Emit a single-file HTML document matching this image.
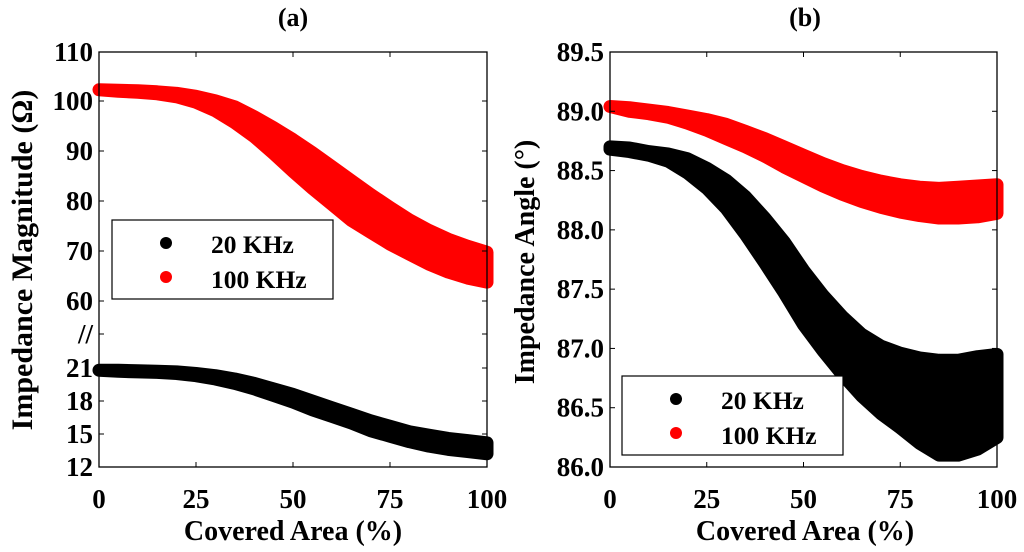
<!DOCTYPE html>
<html><head><meta charset="utf-8"><style>
html,body{margin:0;padding:0;background:#fff;}
svg{display:block;font-family:"Liberation Serif",serif;font-weight:bold;}
</style></head><body>
<svg id="chart" width="1024" height="552" viewBox="0 0 1024 552" xmlns="http://www.w3.org/2000/svg"></svg>
<script>
const xs = [0,5,10,15,20,25,30,35,40,45,50,55,60,65,70,75,80,85,90,95,100];
const magRedHi = [102.4,102.3,102.2,102.0,101.7,101.1,100.2,99.0,97.0,94.8,92.4,89.8,87.0,84.2,81.4,78.8,76.3,74.2,72.4,71.0,69.8];
const magRedLo = [102.4,102.1,101.9,101.6,101.0,99.9,98.2,95.8,93.0,89.6,86.0,82.6,79.4,76.2,73.8,71.4,69.4,67.4,65.8,64.6,63.8];
const magBlkHi = [20.8,20.8,20.75,20.7,20.65,20.5,20.3,20.0,19.6,19.1,18.6,18.0,17.4,16.8,16.2,15.7,15.2,14.9,14.6,14.4,14.2];
const magBlkLo = [20.8,20.7,20.65,20.6,20.5,20.3,20.0,19.6,19.1,18.5,17.9,17.2,16.6,16.0,15.3,14.8,14.3,13.9,13.6,13.4,13.2];
const angRedHi = [89.04,89.03,89.01,88.99,88.96,88.93,88.89,88.83,88.77,88.70,88.63,88.56,88.50,88.45,88.41,88.38,88.36,88.35,88.36,88.37,88.38];
const angRedLo = [89.04,89.00,88.98,88.95,88.90,88.84,88.77,88.70,88.62,88.53,88.45,88.37,88.30,88.24,88.19,88.15,88.12,88.10,88.10,88.11,88.14];
const angBlkHi = [88.70,88.69,88.66,88.64,88.60,88.52,88.42,88.28,88.10,87.90,87.66,87.45,87.27,87.12,87.02,86.96,86.92,86.90,86.90,86.93,86.95];
const angBlkLo = [88.68,88.66,88.63,88.58,88.48,88.35,88.18,87.96,87.72,87.47,87.20,86.98,86.78,86.60,86.45,86.33,86.20,86.10,86.10,86.15,86.25];
const xTicks = ["0","25","50","75","100"];
const magTicks = ["110","100","90","80","70","60","//","21","18","15","12"];
const angTicks = ["89.5","89.0","88.5","88.0","87.5","87.0","86.5","86.0"];

const NS="http://www.w3.org/2000/svg";
const svg=document.getElementById('chart');
function el(tag,attrs,parent){const e=document.createElementNS(NS,tag);for(const k in attrs)e.setAttribute(k,attrs[k]);(parent||svg).appendChild(e);return e;}
const TOP=52,BOT=467;
const L={x0:99,x1:487};
const R={x0:610,x1:997};
const xL=v=>L.x0+(v/100)*(L.x1-L.x0);
const xR=v=>R.x0+(v/100)*(R.x1-R.x0);
function yMag(v){ if(v>=40) return 301-(v-60)*(301-52)/50; return 467-(v-12)*(467-368)/9; }
function yAng(v){ return TOP+(89.5-v)*(BOT-TOP)/3.5; }

function band(g,xf,yf,hi,lo,color,name){
  let pts=[];
  for(let i=0;i<xs.length;i++)pts.push(xf(xs[i]).toFixed(1)+','+yf(hi[i]).toFixed(1));
  for(let i=xs.length-1;i>=0;i--)pts.push(xf(xs[i]).toFixed(1)+','+yf(lo[i]).toFixed(1));
  const p=el('polygon',{points:pts.join(' '),fill:color,stroke:color,'stroke-width':13,'stroke-linejoin':'round'},g);
  
  
}
function axes(name){
  const g=el('g',{},svg);
  
  
  return g;
}
function frame(g,a,xf){
  el('rect',{x:a.x0,y:TOP,width:a.x1-a.x0,height:BOT-TOP,fill:'none',stroke:'#000','stroke-width':1.3},g);
  xTicks.forEach(t=>{const x=xf(+t);
    el('line',{x1:x,x2:x,y1:BOT,y2:BOT-5,stroke:'#000'},g);
    el('line',{x1:x,x2:x,y1:TOP,y2:TOP+5,stroke:'#000'},g);
    const tx=el('text',{x:x,y:508,'text-anchor':'middle','font-size':27},g);tx.textContent=t;
    
    
  });
}
function yticks(g,a,labels,yposFn){
  labels.forEach((t,i)=>{const y=yposFn(t,i);
    el('line',{x1:a.x0,x2:a.x0+5,y1:y,y2:y,stroke:'#000'},g);
    el('line',{x1:a.x1,x2:a.x1-5,y1:y,y2:y,stroke:'#000'},g);
    const tx=el('text',{x:a.x0-6,y:y+9,'text-anchor':'end','font-size':27},g);tx.textContent=t;
    
    
  });
}
function legend(g,bx,by,name){
  const lg=el('g',{},g);
  
  
  el('rect',{x:bx,y:by,width:221,height:79,fill:'#fff',stroke:'#000','stroke-width':1.2},lg);
  el('circle',{cx:bx+54,cy:by+23,r:6,fill:'#000'},lg);
  el('circle',{cx:bx+54,cy:by+57,r:6,fill:'#f00'},lg);
  const t1=el('text',{x:bx+99,y:by+33,'font-size':25.5},lg);t1.textContent='20 KHz';
  
  
  const t2=el('text',{x:bx+99,y:by+68,'font-size':25.5},lg);t2.textContent='100 KHz';
  
  
}
function label(g,txt,x,y,rot,name,fs){
  const t=el('text',{x:x,y:y,'text-anchor':'middle','font-size':fs||28,transform:rot?`rotate(-90 ${x} ${y})`:''},g);
  t.textContent=txt;
  
  
}

const ga=axes('panel-a');
band(ga,xL,yMag,magRedHi,magRedLo,'#f00','series-100khz-magnitude');
band(ga,xL,yMag,magBlkHi,magBlkLo,'#000','series-20khz-magnitude');
frame(ga,L,xL);
const magPos=[52,101,151,201,251,301,334,368,401,434,467];
yticks(ga,L,magTicks,(t,i)=>magPos[i]);
legend(ga,112,220,'legend-a');
label(ga,'(a)',293,26,false,'title-a',26);
label(ga,'Covered Area (%)',293,540,false,'x-axis-title-a');
label(ga,'Impedance Magnitude (Ω)',32,260,true,'y-axis-title-a',30);

const gb=axes('panel-b');
band(gb,xR,yAng,angRedHi,angRedLo,'#f00','series-100khz-angle');
band(gb,xR,yAng,angBlkHi,angBlkLo,'#000','series-20khz-angle');
frame(gb,R,xR);
yticks(gb,R,angTicks,(t)=>yAng(+t));
legend(gb,622,376,'legend-b');
label(gb,'(b)',805,26,false,'title-b',26);
label(gb,'Covered Area (%)',805,540,false,'x-axis-title-b');
label(gb,'Impedance Angle (°)',534,262,true,'y-axis-title-b');
</script>
</body></html>
